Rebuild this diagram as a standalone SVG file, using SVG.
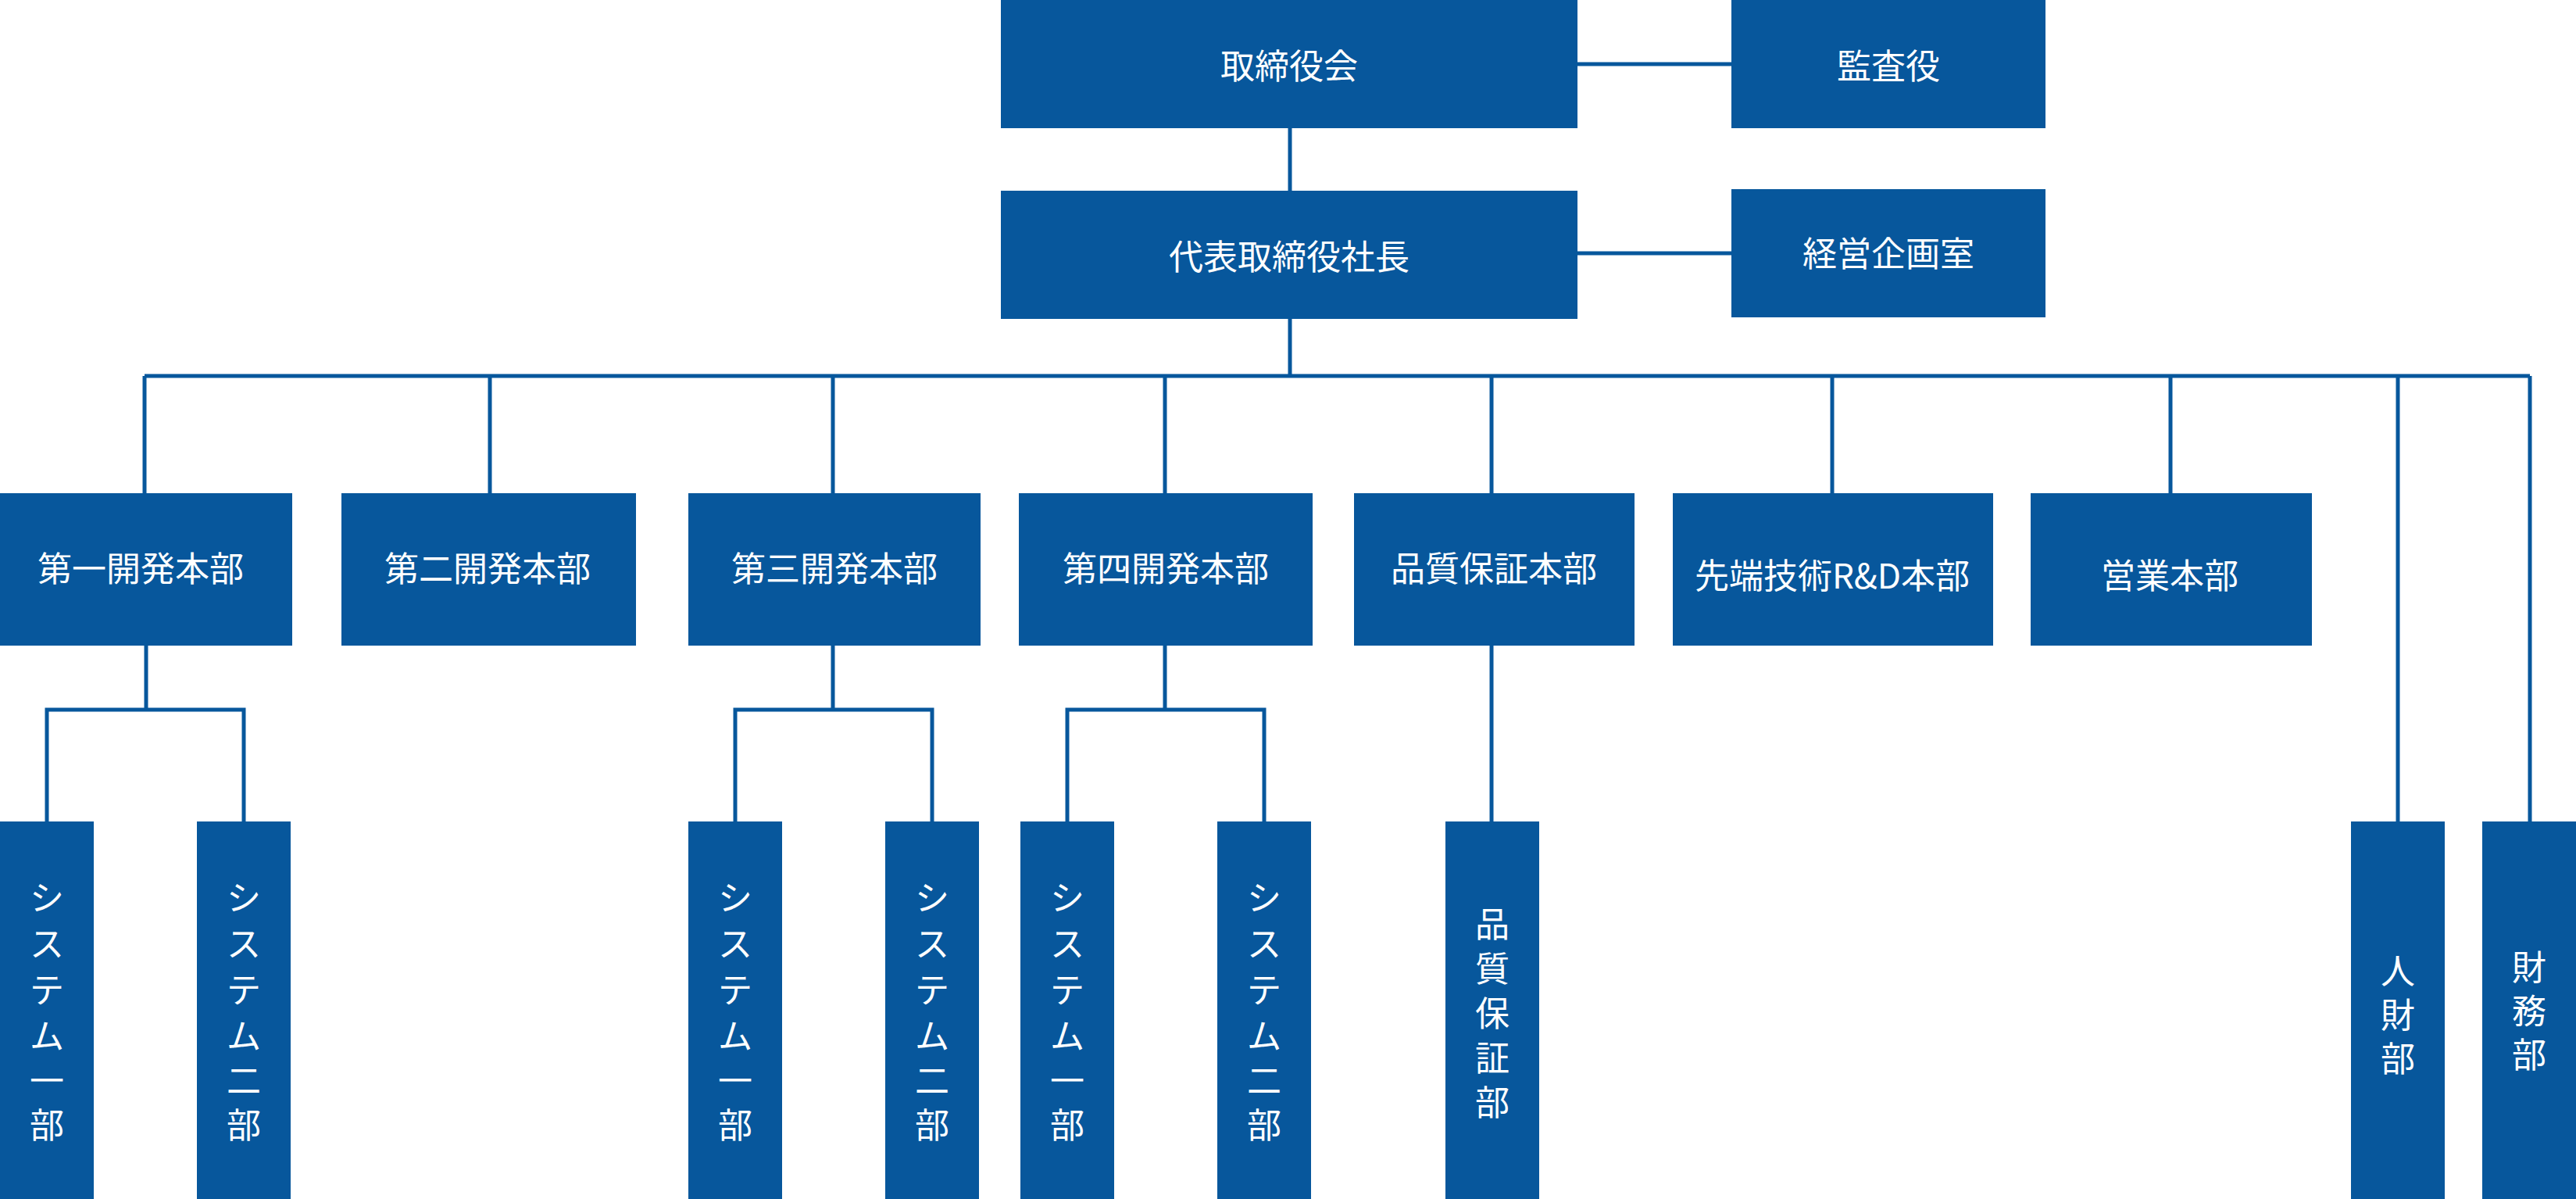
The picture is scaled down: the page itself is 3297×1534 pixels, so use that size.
<svg xmlns="http://www.w3.org/2000/svg" width="3297" height="1534" viewBox="0 0 3297 1534">
<style>
.b{fill:#07579c}
.t{fill:#fff;font-family:"Noto Sans CJK JP","Noto Sans",sans-serif;font-size:44px;text-anchor:middle;dominant-baseline:central}
.c{stroke:#07579c;stroke-width:5;fill:none}
</style>
<rect width="3297" height="1534" fill="#fff"/>
<g id="connectors" class="c">
<path d="M2019 82H2216M2019 324H2216M1651 164V244M1651 408V481M185 481H3238"/>
<path d="M185 481V631M627 481V631M1066 481V631M1491 481V631M1909 481V631M2345 481V631M2778 481V631M3069 481V1051M3238 481V1051"/>
<path d="M187 826V908M60 1051V908H312V1051M1066 826V908M941 1051V908H1193V1051M1491 826V908M1366 1051V908H1618V1051M1909 826V1051"/>
</g>
<g id="n1"><rect class="b" x="1281" y="0" width="738" height="164"/><text class="t" x="1650" y="82">取締役会</text></g>
<g id="n2"><rect class="b" x="2216" y="0" width="402" height="164"/><text class="t" x="2417" y="82">監査役</text></g>
<g id="n3"><rect class="b" x="1281" y="244" width="738" height="164"/><text class="t" x="1650" y="326">代表取締役社長</text></g>
<g id="n4"><rect class="b" x="2216" y="242" width="402" height="164"/><text class="t" x="2417" y="322">経営企画室</text></g>
<g id="d1"><rect class="b" x="0" y="631" width="374" height="195"/><text class="t" x="180" y="725">第一開発本部</text></g>
<g id="d2"><rect class="b" x="437" y="631" width="377" height="195"/><text class="t" x="624" y="725">第二開発本部</text></g>
<g id="d3"><rect class="b" x="881" y="631" width="374" height="195"/><text class="t" x="1068" y="725">第三開発本部</text></g>
<g id="d4"><rect class="b" x="1304" y="631" width="376" height="195"/><text class="t" x="1492" y="725">第四開発本部</text></g>
<g id="d5"><rect class="b" x="1733" y="631" width="359" height="195"/><text class="t" x="1912" y="725">品質保証本部</text></g>
<g id="d6"><rect class="b" x="2141" y="631" width="410" height="195"/><text class="t" x="2345" y="734">先端技術R&amp;D本部</text></g>
<g id="d7"><rect class="b" x="2599" y="631" width="360" height="195"/><text class="t" x="2777" y="734">営業本部</text></g>
<g id="s1"><rect class="b" x="0" y="1051" width="120" height="483"/><text class="t" x="60" y="1146">シ</text><text class="t" x="60" y="1205">ス</text><text class="t" x="60" y="1264">テ</text><text class="t" x="60" y="1323">ム</text><text class="t" x="60" y="1380">一</text><text class="t" x="60" y="1437">部</text></g>
<g id="s2"><rect class="b" x="252" y="1051" width="120" height="483"/><text class="t" x="312" y="1146">シ</text><text class="t" x="312" y="1205">ス</text><text class="t" x="312" y="1264">テ</text><text class="t" x="312" y="1323">ム</text><text class="t" x="312" y="1380">二</text><text class="t" x="312" y="1437">部</text></g>
<g id="s3"><rect class="b" x="881" y="1051" width="120" height="483"/><text class="t" x="941" y="1146">シ</text><text class="t" x="941" y="1205">ス</text><text class="t" x="941" y="1264">テ</text><text class="t" x="941" y="1323">ム</text><text class="t" x="941" y="1380">一</text><text class="t" x="941" y="1437">部</text></g>
<g id="s4"><rect class="b" x="1133" y="1051" width="120" height="483"/><text class="t" x="1193" y="1146">シ</text><text class="t" x="1193" y="1205">ス</text><text class="t" x="1193" y="1264">テ</text><text class="t" x="1193" y="1323">ム</text><text class="t" x="1193" y="1380">二</text><text class="t" x="1193" y="1437">部</text></g>
<g id="s5"><rect class="b" x="1306" y="1051" width="120" height="483"/><text class="t" x="1366" y="1146">シ</text><text class="t" x="1366" y="1205">ス</text><text class="t" x="1366" y="1264">テ</text><text class="t" x="1366" y="1323">ム</text><text class="t" x="1366" y="1380">一</text><text class="t" x="1366" y="1437">部</text></g>
<g id="s6"><rect class="b" x="1558" y="1051" width="120" height="483"/><text class="t" x="1618" y="1146">シ</text><text class="t" x="1618" y="1205">ス</text><text class="t" x="1618" y="1264">テ</text><text class="t" x="1618" y="1323">ム</text><text class="t" x="1618" y="1380">二</text><text class="t" x="1618" y="1437">部</text></g>
<g id="s7"><rect class="b" x="1850" y="1051" width="120" height="483"/><text class="t" x="1910" y="1180">品</text><text class="t" x="1910" y="1237">質</text><text class="t" x="1910" y="1294">保</text><text class="t" x="1910" y="1351">証</text><text class="t" x="1910" y="1408">部</text></g>
<g id="s8"><rect class="b" x="3009" y="1051" width="120" height="483"/><text class="t" x="3069" y="1240">人</text><text class="t" x="3069" y="1296">財</text><text class="t" x="3069" y="1352">部</text></g>
<g id="s9"><rect class="b" x="3177" y="1051" width="120" height="483"/><text class="t" x="3237" y="1235">財</text><text class="t" x="3237" y="1291">務</text><text class="t" x="3237" y="1347">部</text></g>
</svg>
